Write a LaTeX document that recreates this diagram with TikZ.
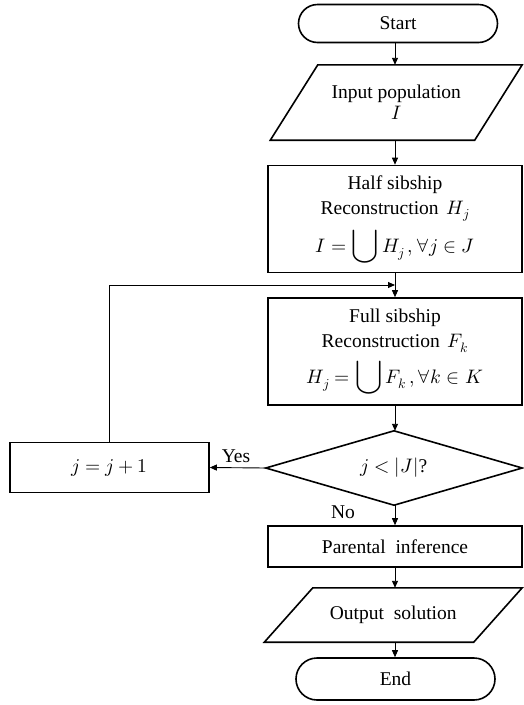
\documentclass[tikz,border=0pt]{standalone}
\usepackage{amsmath}
\usepackage{fontspec}
\usepackage{unicode-math}
\setmainfont{Liberation Serif}
\setmathfont{Latin Modern Math}
\usetikzlibrary{arrows.meta,shapes.misc,calc}
\newcommand{\bigU}{\mathop{\scalebox{1.25}{$\displaystyle\bigcup$}}}
\begin{document}
\begin{tikzpicture}[x=1pt,y=-1pt,
  fnt/.style={font=\fontsize{19.5}{25}\selectfont},
  box/.style={draw, line width=1.6pt, align=center, inner sep=0pt, fnt},
  term/.style={rounded rectangle, draw, line width=1.6pt, minimum width=199pt, minimum height=38pt, inner sep=0pt, fnt},
  holder/.style={align=center, inner sep=0pt, fnt},
  outline/.style={line width=1.6pt, line join=miter},
  conn/.style={line width=0.9pt, -{Triangle[length=7pt,width=6pt]}},
  lbl/.style={inner sep=0pt, fnt}]
\useasboundingbox (0,0) rectangle (524,705);

\node[term] (start) at (398,23.5) {Start};

\node[holder, minimum width=204pt, minimum height=75pt] (input) at (396.25,102.5) {Input population\\[-4pt]$I$};
\draw[outline] ($(input.north west)+(23.75,0)$) -- ($(input.north east)+(23.75,0)$) -- ($(input.south east)+(-23.75,0)$) -- ($(input.south west)+(-23.75,0)$) -- cycle;

\node[box, minimum width=254pt, minimum height=107pt] (half) at (395,219) {Half sibship\\Reconstruction \,$H_j$\\[7pt]$I=\bigU H_j\,,\forall j\in J$};

\node[box, minimum width=254pt, minimum height=107pt] (full) at (395,351.5) {Full sibship\\Reconstruction \,$F_k$\\[7pt]$H_j=\bigU F_k\,,\forall k\in K$};

\node[holder, minimum width=256pt, minimum height=74pt] (dec) at (394,468) {$j<|J|$?};
\draw[outline] (dec.north) -- (dec.east) -- (dec.south) -- (dec.west) -- cycle;

\node[box, minimum width=199pt, minimum height=50pt] (jbox) at (109.5,467.5) {$j=j+1$};

\node[box, minimum width=254pt, minimum height=41pt] (par) at (395,546.5) {Parental \ inference};

\node[holder, minimum width=209pt, minimum height=54pt] (output) at (393.25,615) {Output \ solution};
\draw[outline] ($(output.north west)+(24.25,0)$) -- ($(output.north east)+(24.25,0)$) -- ($(output.south east)+(-24.25,0)$) -- ($(output.south west)+(-24.25,0)$) -- cycle;

\node[term, minimum height=42pt] (end) at (395.5,679) {End};

\coordinate (merge) at (395,285);

\draw[conn] (start.south -| 395,0) -- (input.north -| 395,0);
\draw[conn] (input.south -| 395,0) -- (half.north);
\draw[conn] (half.south) -- (full.north);
\draw[conn] (jbox.north) |- (merge);
\draw[conn] (full.south) -- (dec.north -| full.south);
\draw[conn] (dec.west) -- (jbox.east);
\draw[conn] (dec.south -| par.north) -- (par.north);
\draw[conn] (par.south) -- (output.north -| par.south);
\draw[conn] (output.south -| par.south) -- (end.north -| par.south);

\node[lbl] (yes) at (236,456) {Yes};
\node[lbl] (no) at (343,512) {No};
\end{tikzpicture}
\end{document}
